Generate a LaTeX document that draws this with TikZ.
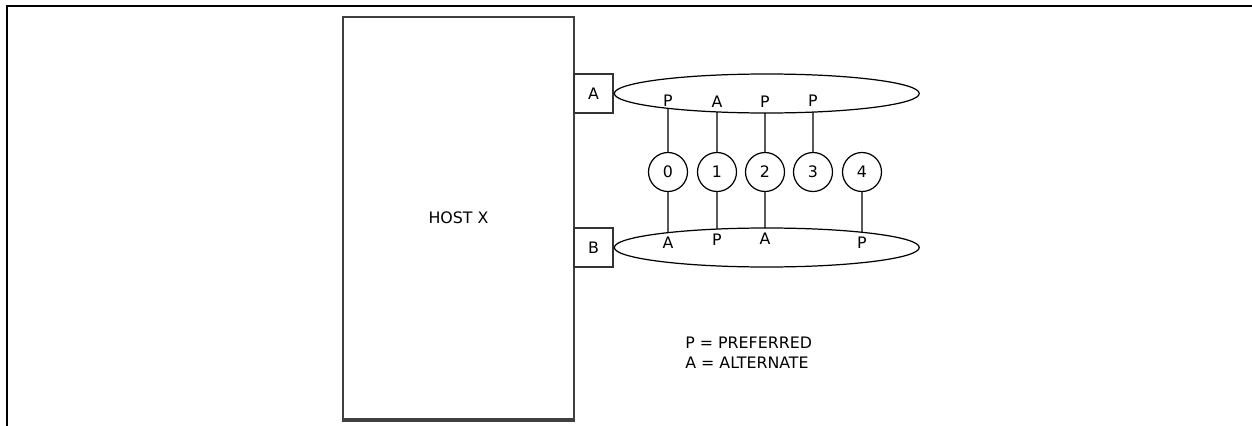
\documentclass[tikz,border=0pt]{standalone}
\usepackage{fontspec}
\usepackage{tikz}
\usetikzlibrary{positioning,shapes.geometric,intersections}
\newfontfamily\diagfont{DejaVu Sans}
\newcommand{\lbl}{\diagfont\fontsize{9}{11.3}\selectfont}
\tikzset{
  frame/.style={draw=black,line width=1.2pt},
  host/.style={
    draw=black!75,
    line width=1.1pt,
    rectangle,
    minimum width=4.62cm,
    minimum height=8.04cm,
    inner sep=0pt,
    font=\lbl
  },
  port/.style={
    draw=black!80,
    line width=0.8pt,
    rectangle,
    minimum size=0.78cm,
    inner sep=0pt,
    font=\lbl
  },
  bus/.style={
    draw,
    ellipse,
    line width=0.7pt,
    minimum width=6.1cm,
    minimum height=0.78cm,
    inner sep=0pt
  },
  dev/.style={
    draw,
    circle,
    line width=0.7pt,
    minimum size=0.78cm,
    inner sep=0pt,
    font=\lbl
  },
  tag/.style={inner sep=0pt,font=\lbl},
  link/.style={line width=0.7pt}
}

\begin{document}
\begin{tikzpicture}[x=0.02cm,y=-0.02cm]
  \useasboundingbox (0,0) rectangle (1252,426);
  \draw[frame] (1252,6) -| (7,426);

  \node[host] (hostx) at (458.5,218) {HOST X};
  \draw[black!75,line width=1.8pt] (hostx.south west) -- (hostx.south east);
  \node[port] (porta) at (593.5,93.5) {A};
  \node[port] (portb) at (593.5,247.5) {B};
  \node[bus,name path=busa,right=0pt of porta] (busa) {};
  \node[bus,name path=busb,right=0pt of portb] (busb) {};

  % devices
  \foreach \n/\x in {0/668,1/717,2/765,3/813,4/862}
    \node[dev] (dev\n) at (\x,172) {\n};

  % links to bus A
  \foreach \n in {0,1,2,3} {
    \path[name path=upa\n] (dev\n.north) -- (dev\n.north |- busa.center);
    \draw[link,name intersections={of=busa and upa\n}]
      (dev\n.north) -- (intersection-1);
  }
  % links to bus B
  \foreach \n in {0,1,2,4} {
    \path[name path=dnb\n] (dev\n.south) -- (dev\n.south |- busb.center);
    \draw[link,name intersections={of=busb and dnb\n}]
      (dev\n.south) -- (intersection-1);
  }

  \node[tag] (ta0) at (668,101) {P};
  \node[tag] (ta1) at (717,102) {A};
  \node[tag] (ta2) at (765,102) {P};
  \node[tag] (ta3) at (813,101) {P};
  \node[tag] (tb0) at (668,243) {A};
  \node[tag] (tb1) at (717,240) {P};
  \node[tag] (tb2) at (765,239) {A};
  \node[tag] (tb4) at (862,243) {P};

  \node[tag,anchor=west,align=left] (legend) at (685,353)
    {P = PREFERRED\\A = ALTERNATE};
\end{tikzpicture}
\end{document}
